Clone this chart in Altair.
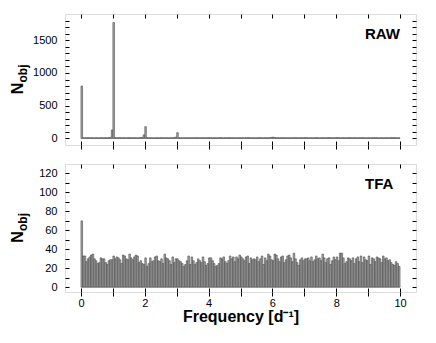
import altair as alt
import pandas as pd

# ---- data (bin width 0.05 d^-1, 200 bins from 0 to 10) ----
bin_width = 0.05

raw_counts = [
    800, 12, 10, 11, 13, 10, 12, 11, 10, 12, 11, 9, 13, 10, 11, 12, 10, 13, 15, 130,
    1770, 14, 12, 11, 13, 10, 12, 11, 10, 12, 13, 11, 10, 12, 11, 10, 12, 14, 18, 55,
    180, 15, 11, 10, 12, 9, 11, 12, 10, 11, 13, 10, 11, 12, 10, 11, 12, 10, 14, 20,
    88, 12, 10, 11, 9, 12, 10, 11, 10, 12, 11, 10, 13, 11, 10, 11, 12, 10, 11, 12,
    13, 11, 10, 12, 11, 10, 12, 13, 11, 10, 12, 11, 13, 12, 10, 11, 12, 10, 11, 12,
    11, 12, 10, 11, 13, 12, 10, 11, 12, 10, 11, 12, 13, 11, 10, 12, 11, 10, 14, 16,
    20, 14, 12, 11, 10, 12, 11, 13, 10, 11, 12, 10, 11, 12, 13, 11, 10, 12, 11, 10,
    13, 12, 10, 11, 12, 10, 11, 13, 12, 10, 11, 12, 10, 11, 12, 13, 11, 10, 12, 11,
    14, 12, 10, 11, 12, 10, 11, 12, 13, 11, 10, 12, 11, 10, 12, 11, 13, 12, 10, 11,
    12, 11, 10, 12, 11, 13, 10, 11, 12, 10, 11, 12, 10, 11, 13, 12, 14, 11, 10, 12,
]

tfa_counts = [
    70, 33, 33, 27, 30, 32, 34, 35, 30, 28, 25, 26, 31, 30, 30, 26, 24, 28, 29, 29,
    33, 30, 32, 31, 29, 25, 34, 33, 30, 29, 35, 31, 29, 32, 34, 33, 26, 28, 25, 24,
    31, 22, 25, 31, 27, 28, 32, 33, 28, 27, 30, 25, 35, 31, 30, 28, 24, 32, 26, 30,
    30, 28, 27, 25, 22, 24, 28, 33, 24, 32, 28, 24, 26, 30, 28, 26, 32, 27, 23, 25,
    31, 31, 28, 25, 22, 23, 25, 31, 30, 32, 27, 25, 28, 33, 30, 32, 27, 32, 30, 34,
    32, 30, 28, 32, 33, 25, 31, 29, 30, 29, 32, 27, 30, 33, 24, 31, 28, 35, 33, 29,
    28, 35, 34, 30, 27, 32, 33, 26, 29, 33, 34, 31, 27, 36, 30, 26, 23, 29, 31, 28,
    30, 30, 31, 28, 32, 27, 29, 33, 30, 31, 28, 35, 31, 26, 30, 31, 24, 28, 32, 29,
    32, 28, 36, 36, 31, 25, 27, 31, 30, 28, 31, 25, 30, 32, 27, 33, 26, 32, 29, 28,
    33, 24, 31, 30, 27, 32, 31, 30, 26, 33, 30, 31, 28, 29, 26, 24, 23, 27, 25, 22,
]

x_ticks = [0, 1, 2, 3, 4, 5, 6, 7, 8, 9, 10]
x_domain = [-0.5, 10.5]
raw_yticks = [0, 100, 200, 300, 400, 500, 600, 700, 800, 900, 1000, 1100, 1200,
              1300, 1400, 1500, 1600, 1700, 1800]
raw_ydomain = [-100, 1900]
tfa_yticks = [0, 10, 20, 30, 40, 50, 60, 70, 80, 90, 100, 110, 120]
tfa_ydomain = [-5, 130]

W = 351
H_TOP = 131
H_BOT = 128
FONT = "Liberation Sans"


def panel(counts, ydom, yticks, ylab_step, tag, h, bottom):
    lefts = [round(i * bin_width, 3) for i in range(len(counts))]
    df = pd.DataFrame({"f0": lefts,
                       "f1": [round(v + bin_width, 3) for v in lefts],
                       "n": counts,
                       "base": [0] * len(counts)})
    xaxis_kw = dict(values=x_ticks, tickSize=4, tickColor="black", domain=False,
                    grid=True, gridDash=[4, h - 8], gridColor="black",
                    gridOpacity=1, gridWidth=1, labelFont=FONT, labelFontSize=11,
                    labelColor="black", labelPadding=1)
    if bottom:
        xaxis = alt.Axis(labelExpr="datum.value % 2 == 0 ? datum.label : ''",
                         title="Frequency [d⁻¹]", titleFont=FONT, titleFontSize=16,
                         titleFontWeight="bold", titleColor="black", titlePadding=0,
                         **xaxis_kw)
    else:
        xaxis = alt.Axis(labels=False, title=None, **xaxis_kw)
    yaxis = alt.Axis(values=yticks, ticks=False, domain=False, grid=True,
                     gridDash=[4, W - 8], gridColor="black", gridOpacity=1,
                     gridWidth=1, labelFont=FONT, labelFontSize=11, format="d",
                     labelColor="black", labelPadding=8, title=None,
                     labelExpr=f"datum.value % {ylab_step} == 0 ? datum.label : ''")
    bars = alt.Chart(df).mark_bar(fill="#a6a6a6", stroke="#404040",
                                  strokeWidth=0.55).encode(
        x=alt.X("f0:Q", scale=alt.Scale(domain=x_domain, nice=False, zero=False),
                axis=xaxis),
        x2="f1:Q",
        y=alt.Y("n:Q", scale=alt.Scale(domain=ydom, nice=False, zero=False),
                axis=yaxis, stack=None),
        y2="base:Q",
    )
    one = pd.DataFrame({"k": [0]})
    tag_text = alt.Chart(one).mark_text(font=FONT, fontSize=15, fontWeight="bold",
                                        align="left", baseline="alphabetic",
                                        color="black").encode(
        x=alt.value(300), y=alt.value(25), text=alt.value(tag))
    n_text = alt.Chart(one).mark_text(font=FONT, fontSize=16, fontWeight="bold",
                                      angle=270, align="center", baseline="alphabetic",
                                      color="black").encode(
        x=alt.value(-42), y=alt.value(h / 2 + 9), text=alt.value("N"))
    obj_text = alt.Chart(one).mark_text(font=FONT, fontSize=12, fontWeight="bold",
                                        angle=270, align="center", baseline="alphabetic",
                                        color="black").encode(
        x=alt.value(-38), y=alt.value(h / 2 - 6), text=alt.value("obj"))
    return alt.layer(bars, tag_text, n_text, obj_text).properties(width=W, height=h)


top = panel(raw_counts, raw_ydomain, raw_yticks, 500, "RAW", H_TOP, False)
bot = panel(tfa_counts, tfa_ydomain, tfa_yticks, 20, "TFA", H_BOT, True)

chart = alt.vconcat(top, bot, spacing=13).properties(
    padding={"left": 1, "top": 5, "right": 5, "bottom": 5}
).configure_view(stroke="black", strokeWidth=1).configure(background="white")

chart.save("out.html", embed_options={"renderer": "svg", "actions": False})
